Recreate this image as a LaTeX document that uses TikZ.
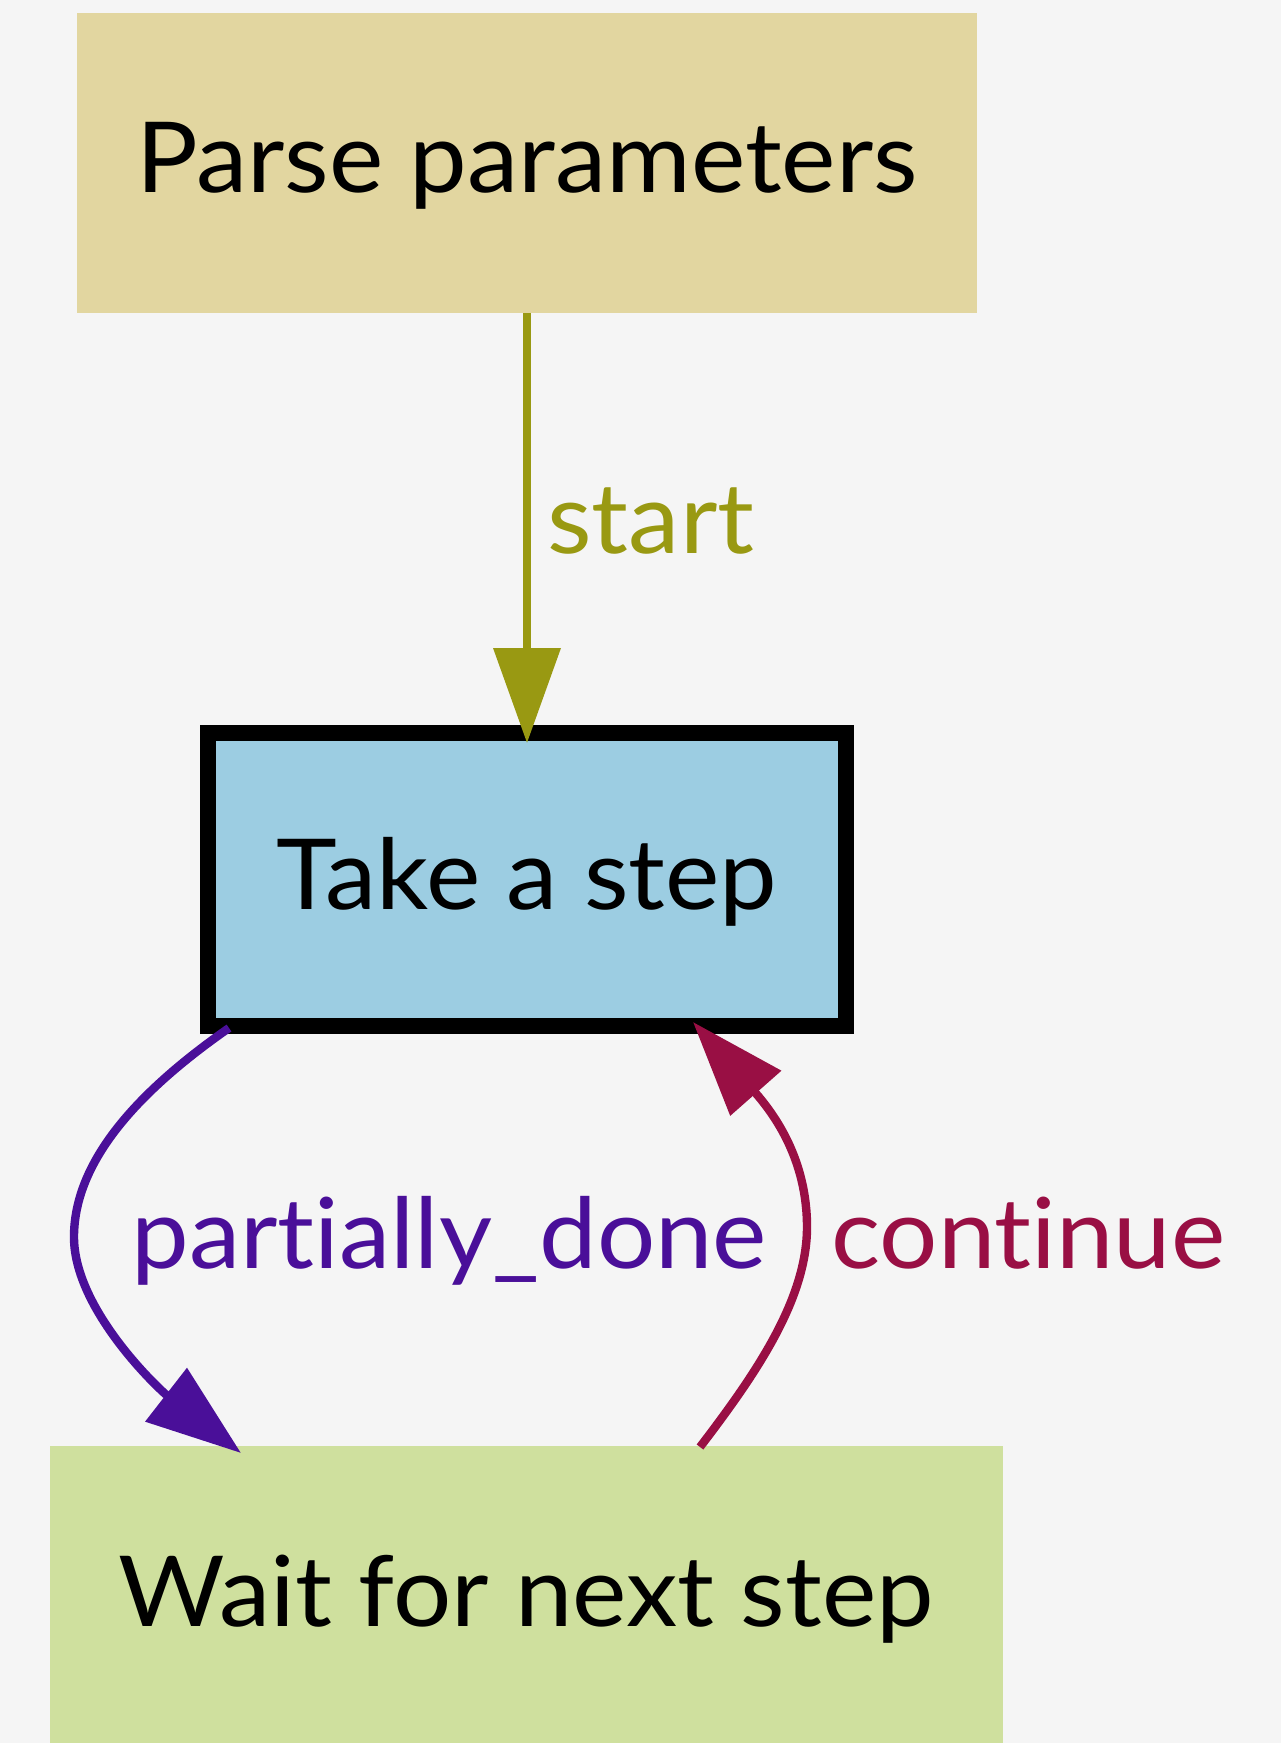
\documentclass[tikz,border=0pt]{standalone}
\usepackage{fontspec}
\setmainfont{Lato}[Ligatures=NoCommon, FakeStretch=1.05]
\usetikzlibrary{arrows.meta,calc}
\definecolor{bg}{HTML}{F5F5F5}
\definecolor{parsefill}{HTML}{E2D6A0}
\definecolor{takefill}{HTML}{9CCDE2}
\definecolor{waitfill}{HTML}{CFE09E}
\definecolor{startcol}{HTML}{999912}
\definecolor{partcol}{HTML}{4A0F99}
\definecolor{contcol}{HTML}{990F44}
\begin{document}
\begin{tikzpicture}[x=0.5pt,y=-0.5pt,
  box/.style={rectangle, inner sep=0pt, outer sep=0pt, text height=30pt, text depth=0pt, font=\fontsize{49}{55}\selectfont},
  lbl/.style={anchor=base west, inner sep=0pt, font=\fontsize{49}{55}\selectfont},
  edge/.style={line width=3.6pt, -{Triangle[length=47.5pt,width=33pt]}},
  curved/.style={edge, line width=4.2pt}]
\fill[bg] (0,0) rectangle (1281,1743);
\useasboundingbox (0,0) rectangle (1281,1743);
\node[box, fill=parsefill, minimum width=450pt, minimum height=150pt] (parse) at (527,163) {Parse parameters};
\node[box, fill=takefill, draw=black, line width=8pt, minimum width=319pt, minimum height=146.5pt] (take) at (527,879.5) {Take a step};
\node[box, fill=waitfill, minimum width=476.5pt, minimum height=150pt] (wait) at (526.5,1596) {Wait for next step};
\draw[edge, draw=startcol] (parse.south) -- ($(take.center)+(0,-136.5)$);
\node[lbl, text=startcol] (lstart) at (547,553) {start};
\draw[curved, draw=partcol] ($(take.center)+(-298,148.5)$) .. controls (140,1090) and (74,1160) .. (74,1237) .. controls (74,1310) and (160,1390) .. ($(wait.center)+(-285.5,-143)$);
\node[lbl, text=partcol] (lpart) at (131,1268) {partially\_done};
\draw[curved, draw=contcol] ($(wait.center)+(173.5,-149)$) .. controls (755,1375) and (807,1300) .. (807,1227) .. controls (807,1160) and (775,1115) .. ($(take.center)+(166,142.5)$);
\node[lbl, text=contcol] (lcont) at (831,1268) {continue};
\end{tikzpicture}
\end{document}
